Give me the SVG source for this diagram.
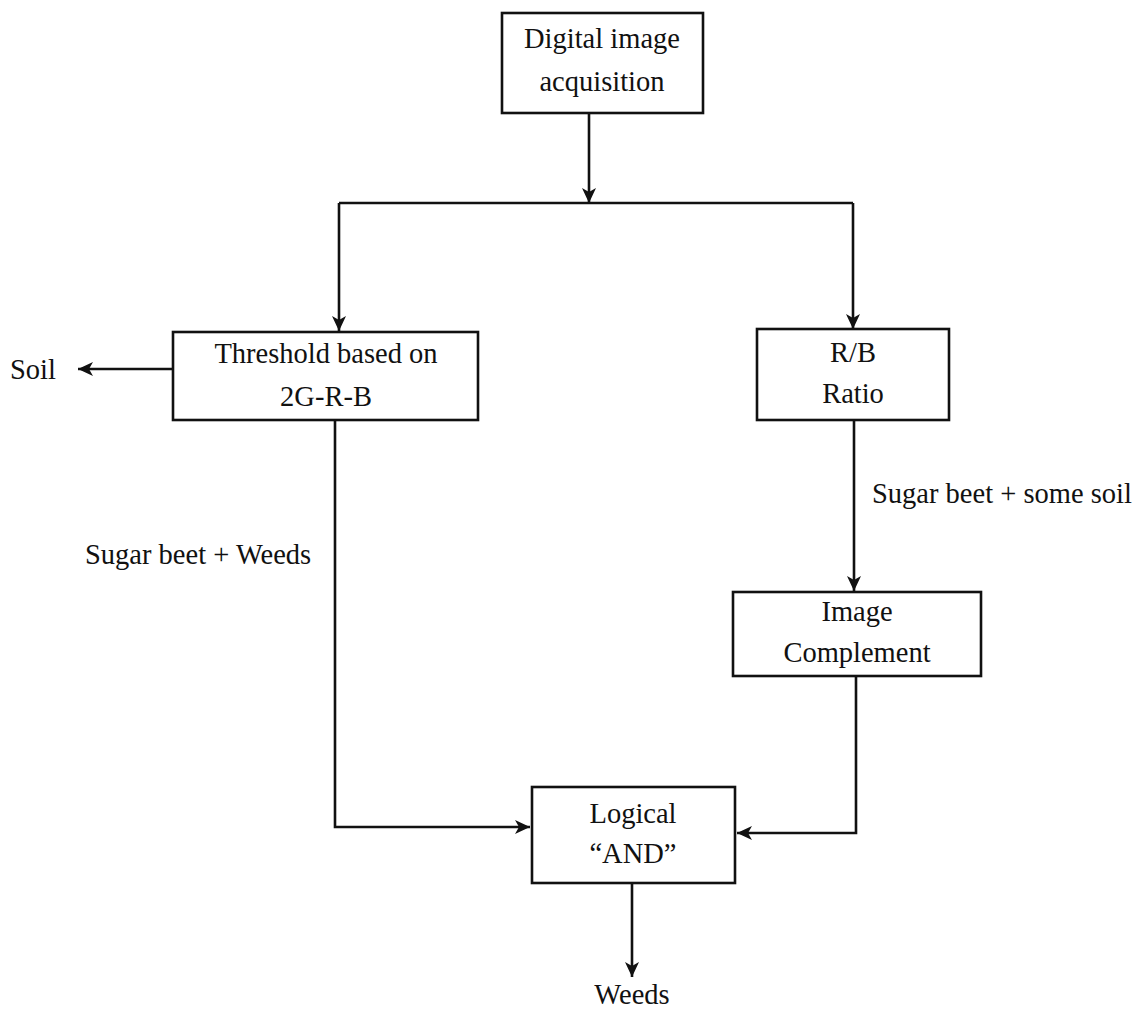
<svg xmlns="http://www.w3.org/2000/svg" width="1142" height="1012" viewBox="0 0 1142 1012">
<style>
text{font-family:"Liberation Serif","Times New Roman",serif;font-size:28.5px;fill:#111}
.c{text-anchor:middle}
.box{fill:#fff;stroke:#111;stroke-width:2.6}
.ln{fill:none;stroke:#111;stroke-width:2.6}
</style>
<defs>
<marker id="ah" markerUnits="userSpaceOnUse" markerWidth="16" markerHeight="14" refX="15" refY="7" orient="auto">
<path d="M0,0 L15,7 L0,14 L4,7 Z" fill="#111"/>
</marker>
</defs>
<rect width="1142" height="1012" fill="#fff"/>
<g id="connectors">
<line class="ln" x1="589" y1="113" x2="589" y2="203" marker-end="url(#ah)"/>
<line class="ln" x1="339" y1="203" x2="853" y2="203"/>
<line class="ln" x1="339" y1="203" x2="339" y2="331" marker-end="url(#ah)"/>
<line class="ln" x1="853" y1="203" x2="853" y2="329" marker-end="url(#ah)"/>
<line class="ln" x1="173" y1="369" x2="78" y2="369" marker-end="url(#ah)"/>
<line class="ln" x1="854" y1="420" x2="854" y2="591" marker-end="url(#ah)"/>
<path class="ln" d="M856,676 V833 H737" marker-end="url(#ah)"/>
<path class="ln" d="M335,420 V827 H530" marker-end="url(#ah)"/>
<line class="ln" x1="632" y1="883" x2="632" y2="977" marker-end="url(#ah)"/>
<text x="10" y="379">Soil</text>
<text x="85" y="564">Sugar beet + Weeds</text>
<text x="872" y="503">Sugar beet + some soil</text>
<text class="c" x="632" y="1004">Weeds</text>
</g>
<g id="acquisition">
<rect class="box" x="502" y="13" width="201" height="100"/>
<text class="c" x="602" y="48">Digital image</text>
<text class="c" x="602" y="91">acquisition</text>
</g>
<g id="threshold">
<rect class="box" x="173" y="332" width="305" height="88"/>
<text class="c" x="326" y="363">Threshold based on</text>
<text class="c" x="326" y="406">2G-R-B</text>
</g>
<g id="rb-ratio">
<rect class="box" x="757" y="329" width="192" height="91"/>
<text class="c" x="853" y="362">R/B</text>
<text class="c" x="853" y="403">Ratio</text>
</g>
<g id="complement">
<rect class="box" x="733" y="592" width="248" height="84"/>
<text class="c" x="857" y="621">Image</text>
<text class="c" x="857" y="662">Complement</text>
</g>
<g id="logical-and">
<rect class="box" x="532" y="787" width="203" height="96"/>
<text class="c" x="633" y="823">Logical</text>
<text class="c" x="633" y="863">“AND”</text>
</g>
</svg>
